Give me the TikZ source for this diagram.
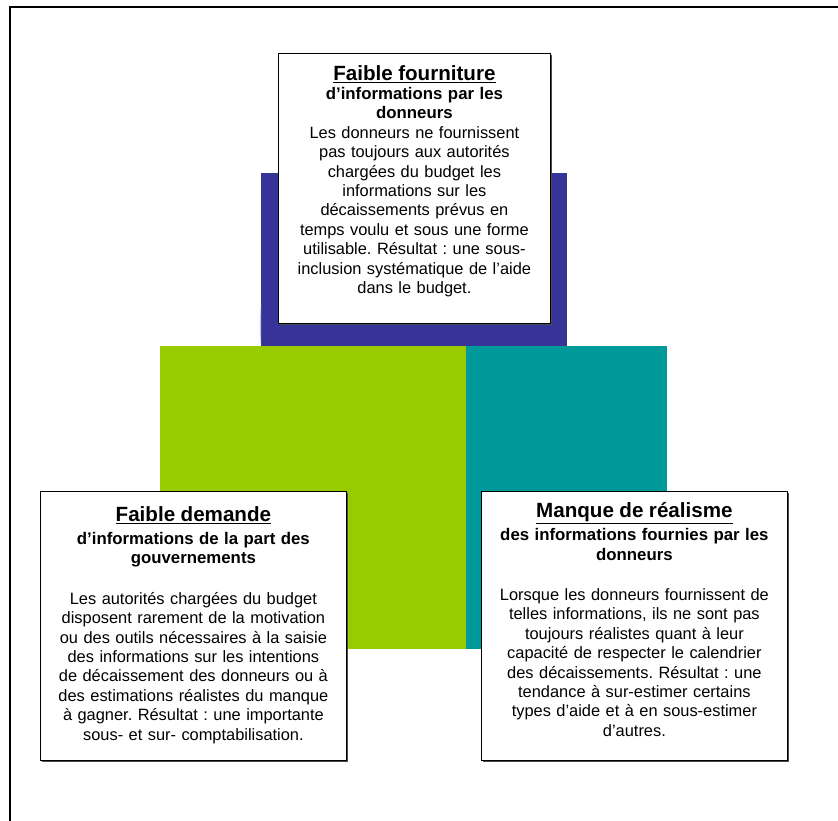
\documentclass[tikz,border=0pt]{standalone}
\usepackage{fontspec}
\setmainfont{Liberation Sans}
\usepackage{tikz}
\usetikzlibrary{positioning,shadows}
\frenchspacing

\definecolor{bandeBleu}{RGB}{54,51,153}
\definecolor{bandeVert}{RGB}{153,204,0}
\definecolor{bandeTurquoise}{RGB}{0,153,153}

\tikzset{
  panel/.style={draw=black, fill=white, line width=0.8pt, anchor=north west,
    drop shadow={shadow xshift=1.5pt, shadow yshift=-1.5pt, fill=black!70, opacity=1}},
  paneltext/.style={text width=#1, align=center, inner sep=0pt,
    font=\fontsize{16.4}{19.4}\selectfont},
}
\newcommand{\paneltitle}[1]{{\fontsize{20.6}{23}\selectfont\bfseries\underline{#1}\par}}
\newcommand{\panelsub}[1]{{\fontsize{16.8}{19.4}\selectfont\bfseries #1\par}}

\begin{document}
\begin{tikzpicture}[x=1pt,y=-1pt]
        \useasboundingbox (0,0) rectangle (838,821);

        % Frame
        \draw[line width=2pt] (10,821) |- (838,7);

        % Blocks
        \fill[bandeBleu] (261,173) rectangle (567,346);
        \fill[bandeBleu!30] (261,304) .. controls (259.6,318) and (259.6,334) .. (261,346) -- cycle;
        \fill[bandeVert] (160,346) rectangle (466,649);
        \fill[bandeTurquoise] (466,346) rectangle (667,649);

        % Panels
        \node[panel, minimum width=272pt, minimum height=270pt] (fourniture) at (278,53) {};
        \node[panel, minimum width=306pt, minimum height=269pt] (demande) at (40,491) {};
        \node[panel, minimum width=306pt, minimum height=269pt] (realisme) at (481,491) {};

        \node[paneltext=266pt, below=12pt of fourniture.north] (fournitureTxt) {%
          \paneltitle{Faible fourniture}
          \panelsub{d’informations par les\\ donneurs}
          Les donneurs ne fournissent\\ pas toujours aux autorités\\ chargées du budget les\\
          informations sur les\\ décaissements prévus en\\ temps voulu et sous une forme\\
          utilisable. Résultat : une sous-\\ inclusion systématique de l’aide\\ dans le budget.};

        \node[paneltext=300pt, below=15pt of demande.north] (demandeTxt) {%
          \paneltitle{Faible demande}\vspace{4pt}
          \panelsub{d’informations de la part des\\ gouvernements}\vspace{21pt}
          Les autorités chargées du budget\\ disposent rarement de la motivation\\
          ou des outils nécessaires à la saisie\\ des informations sur les intentions\\
          de décaissement des donneurs ou à\\ des estimations réalistes du manque\\
          à gagner. Résultat : une importante\\ sous- et sur- comptabilisation.};

        \node[paneltext=300pt, below=11pt of realisme.north] (realismeTxt) {%
          \paneltitle{Manque de réalisme}\vspace{4pt}
          \panelsub{des informations fournies par les\\ donneurs}\vspace{21pt}
          Lorsque les donneurs fournissent de\\ telles informations, ils ne sont pas\\
          toujours réalistes quant à leur\\ capacité de respecter le calendrier\\
          des décaissements. Résultat : une\\ tendance à sur-estimer certains\\
          types d’aide et à en sous-estimer\\ d’autres.};
\end{tikzpicture}
\end{document}
